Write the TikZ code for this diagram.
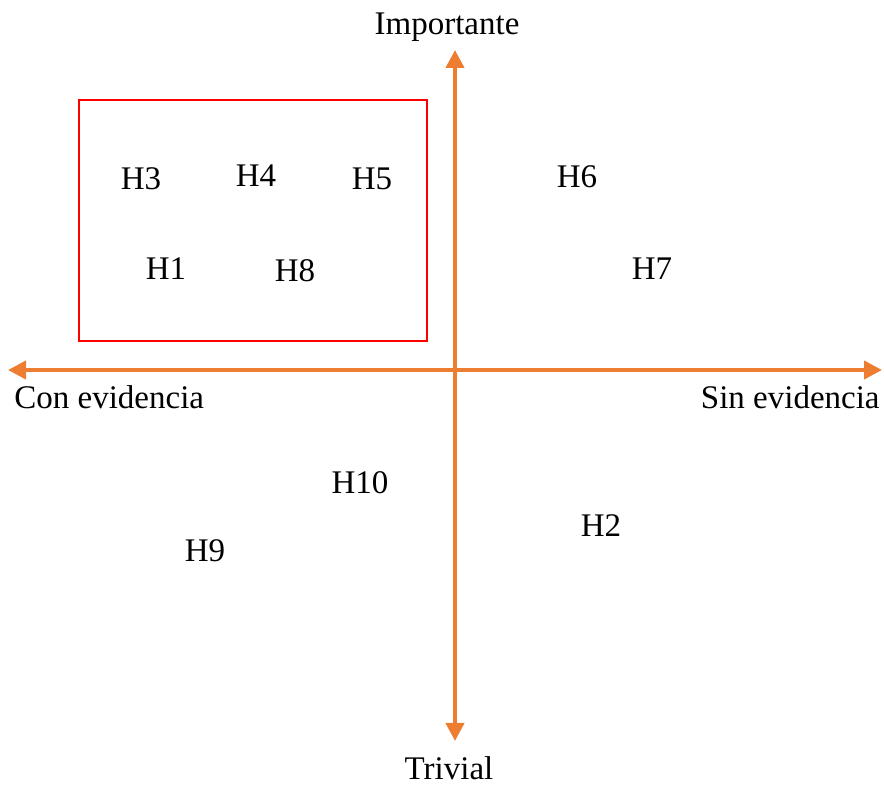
\documentclass[tikz,border=0pt]{standalone}
\usepackage{fontspec}
\setmainfont{Liberation Serif}
\usetikzlibrary{arrows.meta}
\definecolor{axisorange}{RGB}{237,125,49}
\tikzset{
	axisline/.style={draw=axisorange, line width=2pt, -{Triangle[length=9pt,width=9pt]}},
	hyp/.style={inner sep=0pt, font=\fontsize{16.5}{20}\selectfont},
	axislabel/.style={inner sep=0pt, font=\fontsize{16.5}{20}\selectfont}
}
\begin{document}
\begin{tikzpicture}[x=0.5pt, y=-0.5pt]
		\useasboundingbox (0,0) rectangle (884,785);
		% ejes
		\coordinate (origin) at (455,370);
		\coordinate (top) at (455,50);
		\coordinate (bottom) at (455,741);
		\coordinate (left) at (8,370);
		\coordinate (right) at (882,370);
		\draw[axisline] (origin) -- (top);
		\draw[axisline] (origin) -- (bottom);
		\draw[axisline] (origin) -- (left);
		\draw[axisline] (origin) -- (right);
		\node[axislabel] (importante) at (447,27) {Importante};
		\node[axislabel] (trivial) at (449,768) {Trivial};
		\node[axislabel, anchor=west] (con) at (14,397) {Con evidencia};
		\node[axislabel, anchor=east] (sin) at (880,397) {Sin evidencia};
		% recuadro
		\draw[red, line width=1pt] (79,100) rectangle (427,341);
		% hipotesis
		\node[hyp] (h3) at (141,179) {H3};
		\node[hyp] (h4) at (256,176) {H4};
		\node[hyp] (h5) at (372,179) {H5};
		\node[hyp] (h1) at (166,269) {H1};
		\node[hyp] (h8) at (295,271) {H8};
		\node[hyp] (h6) at (577,177) {H6};
		\node[hyp] (h7) at (652,269) {H7};
		\node[hyp] (h10) at (360,483) {H10};
		\node[hyp] (h2) at (601,526) {H2};
		\node[hyp] (h9) at (205,551) {H9};
	\end{tikzpicture}
\end{document}
